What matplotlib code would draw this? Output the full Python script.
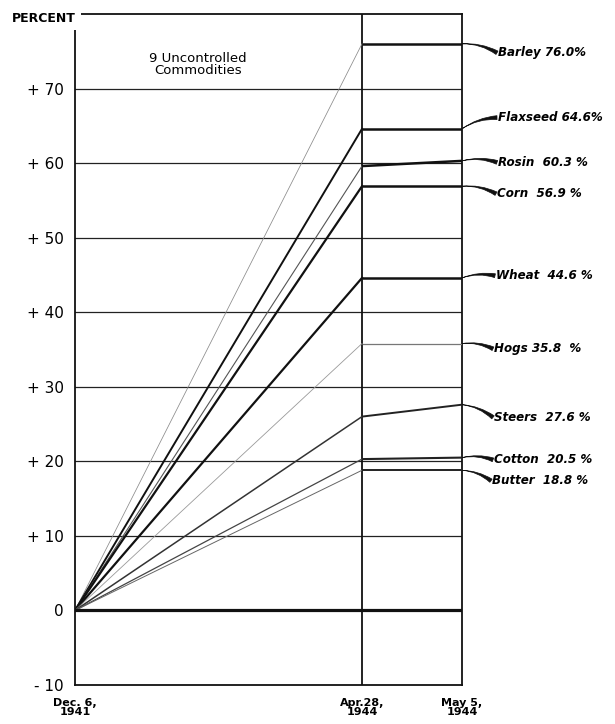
import matplotlib
matplotlib.use("Agg")
import matplotlib.pyplot as plt

# ---- data ----
dates = ["Dec. 6,\n1941", "Apr.28,\n1944", "May 5,\n1944"]
commodities = ["Barley", "Flaxseed", "Rosin", "Corn", "Wheat", "Hogs", "Steers", "Cotton", "Butter"]
start_vals = [0, 0, 0, 0, 0, 0, 0, 0, 0]
apr28_vals = [76.0, 64.6, 59.6, 56.9, 44.6, 35.8, 26.0, 20.3, 18.8]
may5_vals = [76.0, 64.6, 60.3, 56.9, 44.6, 35.8, 27.6, 20.5, 18.8]
label_texts = ["Barley 76.0%", "Flaxseed 64.6%", "Rosin  60.3 %", "Corn  56.9 %", "Wheat  44.6 %",
               "Hogs 35.8  %", "Steers  27.6 %", "Cotton  20.5 %", "Butter  18.8 %"]
yticks = [-10, 0, 10, 20, 30, 40, 50, 60, 70]
ytick_labels = ["- 10", "0", "+ 10", "+ 20", "+ 30", "+ 40", "+ 50", "+ 60", "+ 70"]
baseline_vals = [0, 0, 0]

# ---- styling / layout ----
x_pos = [0, 287, 387]
rise_style = [(0.55, "#8a8a8a"), (1.4, "#111111"), (0.8, "#555555"), (1.6, "#111111"),
              (1.6, "#111111"), (0.6, "#9a9a9a"), (1.1, "#333333"), (0.9, "#444444"), (0.7, "#666666")]
flat_style = [(1.8, "#111111"), (1.8, "#111111"), (1.8, "#111111"), (1.8, "#111111"),
              (1.8, "#111111"), (0.9, "#777777"), (1.4, "#222222"), (1.5, "#222222"), (1.4, "#222222")]
label_y = [74.8, 66.1, 60.1, 55.9, 44.9, 35.1, 25.9, 20.2, 17.4]
label_x = [36, 36, 36, 35, 34, 32, 32, 32, 30]

fig = plt.figure(figsize=(6.15, 7.24), dpi=100)
ax = fig.add_axes([75/615, 1 - 685/724, (462 - 75)/615, 671/724])
ax.set_xlim(x_pos[0], x_pos[2])
ax.set_ylim(-10, 80)

# gridlines
for v in yticks[2:]:
    ax.axhline(v, color="#222222", lw=0.9, zorder=1)
ax.axvline(x_pos[1], color="#111111", lw=1.3, zorder=1)

# baseline
ax.plot(x_pos, baseline_vals, color="#111111", lw=2.3, zorder=3)

for i, name in enumerate(commodities):
    lw, c = rise_style[i]
    ax.plot(x_pos[:2], [start_vals[i], apr28_vals[i]], color=c, lw=lw, zorder=2)
    lw2, c2 = flat_style[i]
    ax.plot(x_pos[1:], [apr28_vals[i], may5_vals[i]], color=c2, lw=lw2, zorder=3,
            solid_capstyle="butt")
    tx = x_pos[2] + label_x[i]
    ax.text(tx, label_y[i], label_texts[i], fontsize=8.6, fontstyle="italic",
            fontweight="bold", va="center", ha="left", clip_on=False)
    ax.annotate("", xy=(x_pos[2], may5_vals[i]), xytext=(tx - 1, label_y[i]),
                textcoords="data", annotation_clip=False,
                arrowprops=dict(arrowstyle="wedge,tail_width=0.28,shrink_factor=0.35",
                                fc="#111111", ec="#111111", lw=0.5,
                                connectionstyle="arc3,rad=0.15", shrinkA=0, shrinkB=0))

for s in ["left", "right", "top", "bottom"]:
    ax.spines[s].set_linewidth(1.3)
    ax.spines[s].set_color("#111111")

ax.set_yticks(yticks)
ax.set_yticklabels(ytick_labels, fontsize=11)
ax.tick_params(axis="y", length=0, pad=8)
ax.set_xticks(x_pos)
ax.set_xticklabels(dates, fontsize=8, fontweight="bold", linespacing=0.95)
ax.tick_params(axis="x", length=0, pad=9)

fig.text(12/615, 1 - 18/724, "PERCENT", fontsize=9, fontweight="bold", va="center", ha="left",
         bbox=dict(facecolor="white", edgecolor="none", pad=4))
ax.text(123, 73.2, "9 Uncontrolled\nCommodities", fontsize=9.5, ha="center", va="center",
        linespacing=0.95)

fig.savefig("out.png", dpi=100, facecolor="white")
